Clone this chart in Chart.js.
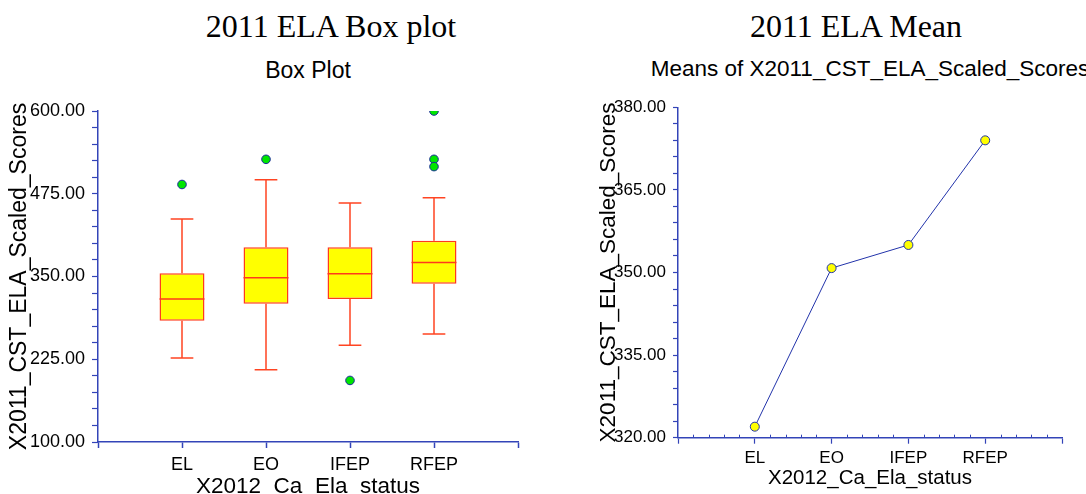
<!DOCTYPE html>
<html>
<head>
<meta charset="utf-8">
<script src="https://cdn.jsdelivr.net/npm/chart.js@4.4.1/dist/chart.umd.min.js"></script>
<style>
  html, body { margin: 0; padding: 0; background: #fff; overflow: hidden; width: 1086px; height: 494px; }
  .t { position: absolute; white-space: nowrap; text-align: center; color: #000; }
  .main { font-family: 'Liberation Serif', 'Times New Roman', serif; font-size: 32px; line-height: 32px; }
  .sub { font-family: 'Liberation Sans', Arial, sans-serif; }
  canvas { position: absolute; top: 0; }
</style>
</head>
<body>
<div class="t main" style="left:131px; width:400px; top:10px;">2011 ELA Box plot</div>
<div class="t sub" style="left:108px; width:400px; top:59px; font-size:23px; line-height:23px;">Box Plot</div>
<div class="t main" style="left:656px; width:400px; top:10px;">2011 ELA Mean</div>
<div class="t sub" style="left:570px; width:600px; top:58px; font-size:22.5px; line-height:22.5px;">Means of X2011_CST_ELA_Scaled_Scores</div>

<canvas id="boxChart" width="543" height="520" style="left:0;"></canvas>
<canvas id="meanChart" width="543" height="520" style="left:543px;"></canvas>

<script>
// Groups on the x axis
const CATEGORIES = ['EL', 'EO', 'IFEP', 'RFEP'];

// Five-number summaries of 2011 CST ELA scaled scores per group
const WHISKER_LOW  = [227, 209, 246, 263];
const Q1           = [283, 309, 316, 339];
const MEDIAN       = [316, 348, 354, 371];
const Q3           = [355, 394, 394, 404];
const WHISKER_HIGH = [437, 496, 461, 469];
const OUTLIERS     = [[489], [527], [193], [600, 527, 516]];

// Group means
const MEANS = [322.0, 350.8, 355.0, 374.0];

// Labelled values on the y axes
const BOX_TICKS  = [100, 225, 350, 475, 600];
const MEAN_TICKS = [320, 335, 350, 365, 380];

const AXIS = '#3344b8';
const BOX_RED = '#ff3a1c';
const SANS = "'Liberation Sans', Arial, sans-serif";

const BOX_WIDTH = 0.535;   // in x units (one unit per group)
const CAP_HALF = 0.135;

const pos = i => i + 1;
const isInt = v => Math.abs(v - Math.round(v)) < 1e-6;
const catLabel = v => (isInt(v) && v >= 1 && v <= CATEGORIES.length) ? CATEGORIES[Math.round(v) - 1] : '';

// line segments separated by gaps
function segments(pairs) {
  const out = [];
  pairs.forEach(([a, b]) => { out.push(a, b, { x: a.x, y: null }); });
  return out;
}

const medianSegs = segments(CATEGORIES.map((c, i) => [
  { x: pos(i) - BOX_WIDTH / 2, y: MEDIAN[i] }, { x: pos(i) + BOX_WIDTH / 2, y: MEDIAN[i] }
]));

const whiskerSegs = segments(CATEGORIES.flatMap((c, i) => [
  [{ x: pos(i), y: Q3[i] }, { x: pos(i), y: WHISKER_HIGH[i] }],
  [{ x: pos(i) - CAP_HALF, y: WHISKER_HIGH[i] }, { x: pos(i) + CAP_HALF, y: WHISKER_HIGH[i] }],
  [{ x: pos(i), y: Q1[i] }, { x: pos(i), y: WHISKER_LOW[i] }],
  [{ x: pos(i) - CAP_HALF, y: WHISKER_LOW[i] }, { x: pos(i) + CAP_HALF, y: WHISKER_LOW[i] }]
]));

const outlierPts = OUTLIERS.flatMap((vals, i) => vals.map(v => ({ x: pos(i), y: v })));

new Chart(document.getElementById('boxChart'), {
  type: 'scatter',
  data: {
    datasets: [
      {
        type: 'scatter', data: outlierPts, order: 0,
        pointRadius: 4.3, pointBackgroundColor: '#00e600', pointBorderColor: '#1a2a9a', pointBorderWidth: 1
      },
      {
        type: 'scatter', data: medianSegs, order: 1, showLine: true, spanGaps: false,
        borderColor: BOX_RED, borderWidth: 1.5, pointRadius: 0
      },
      {
        type: 'bar', order: 2,
        data: CATEGORIES.map((c, i) => ({ x: pos(i), y: [Q1[i], Q3[i]] })),
        backgroundColor: '#ffff00', borderColor: BOX_RED, borderWidth: 1.5, borderSkipped: false,
        categoryPercentage: 1, barPercentage: BOX_WIDTH
      },
      {
        type: 'scatter', data: whiskerSegs, order: 3, showLine: true, spanGaps: false,
        borderColor: '#ff4422', borderWidth: 1.5, pointRadius: 0
      }
    ]
  },
  options: {
    responsive: false, animation: false, events: [],
    layout: { padding: { left: 0, right: 25, top: 111, bottom: 18 } },
    plugins: { legend: { display: false }, tooltip: { enabled: false } },
    scales: {
      x: {
        type: 'linear', min: 0, max: 5, offset: false,
        afterFit: s => { s.height = 60; },
        border: { display: true, color: AXIS, width: 1.5 },
        grid: { offset: false, drawOnChartArea: false, drawTicks: true, tickLength: 6, tickColor: AXIS, tickWidth: 1.5 },
        ticks: { stepSize: 1, autoSkip: false, maxRotation: 0, minRotation: 0, padding: 6,
                 color: '#000', font: { family: SANS, size: 18 }, callback: v => catLabel(v) },
        title: { display: true, text: 'X2012_Ca_Ela_status', color: '#000',
                 font: { family: SANS, size: 22.5 }, padding: { top: 0, bottom: 2 } }
      },
      y: {
        type: 'linear', min: 100, max: 600,
        afterFit: s => { s.width = 98; },
        border: { display: true, color: AXIS, width: 1.5 },
        grid: { offset: false, drawOnChartArea: false, drawTicks: true, tickLength: 6, tickColor: AXIS, tickWidth: 1.2 },
        ticks: { stepSize: 25, autoSkip: false, padding: 7, color: '#000',
                 font: { family: SANS, size: 18 },
                 callback: v => BOX_TICKS.includes(v) ? v.toFixed(2) : '' },
        title: { display: true, text: 'X2011_CST_ELA_Scaled_Scores', color: '#000',
                 font: { family: SANS, size: 23 }, padding: { top: 6.2, bottom: 0 } }
      }
    }
  }
});

// short inward marks at the unlabelled x-axis steps
const minorXTicks = {
  id: 'minorXTicks',
  afterDraw(chart) {
    const sx = chart.scales.x;
    const ctx = chart.ctx;
    ctx.save();
    ctx.strokeStyle = AXIS;
    ctx.lineWidth = 1;
    sx.ticks.forEach(t => {
      if (isInt(t.value)) return;
      const px = Math.round(sx.getPixelForValue(t.value)) + 0.5;
      ctx.beginPath();
      ctx.moveTo(px, sx.top);
      ctx.lineTo(px, sx.top - 3);
      ctx.stroke();
    });
    ctx.restore();
  }
};

new Chart(document.getElementById('meanChart'), {
  type: 'line',
  data: {
    datasets: [{
      data: MEANS.map((m, i) => ({ x: pos(i), y: m })),
      borderColor: '#2233aa', borderWidth: 1, tension: 0,
      pointRadius: 4.5, pointBackgroundColor: '#ffff00', pointBorderColor: '#2233aa', pointBorderWidth: 1
    }]
  },
  plugins: [minorXTicks],
  options: {
    responsive: false, animation: false, events: [],
    layout: { padding: { left: 0, right: 24, top: 107.3, bottom: 22.3 } },
    plugins: { legend: { display: false }, tooltip: { enabled: false } },
    scales: {
      x: {
        type: 'linear', min: 0, max: 5, offset: false,
        afterFit: s => { s.height = 60; },
        border: { display: true, color: AXIS, width: 1.5 },
        grid: { offset: false, drawOnChartArea: false, drawTicks: true, tickLength: 6, tickWidth: 1.2,
                tickColor: c => isInt(c.tick.value) ? AXIS : 'rgba(0,0,0,0)' },
        ticks: { stepSize: 0.2, autoSkip: false, maxRotation: 0, minRotation: 0, padding: 4,
                 color: '#000', font: { family: SANS, size: 17 }, callback: v => catLabel(v) },
        title: { display: true, text: 'X2012_Ca_Ela_status', color: '#000',
                 font: { family: SANS, size: 20.5 }, padding: { top: 0, bottom: 7 } }
      },
      y: {
        type: 'linear', min: 320, max: 380,
        afterFit: s => { s.width = 135; },
        border: { display: true, color: AXIS, width: 1.5 },
        grid: { offset: false, drawOnChartArea: false, drawTicks: true, tickLength: 5, tickColor: AXIS, tickWidth: 1.2 },
        ticks: { stepSize: 3, autoSkip: false, padding: 7, color: '#000',
                 font: { family: SANS, size: 17 },
                 callback: v => MEAN_TICKS.some(t => Math.abs(t - v) < 1e-6) ? v.toFixed(2) : '' },
        title: { display: true, text: 'X2011_CST_ELA_Scaled_Scores', color: '#000',
                 font: { family: SANS, size: 22.5 }, padding: { top: 52.5, bottom: 0 } }
      }
    }
  }
});
</script>
</body>
</html>
